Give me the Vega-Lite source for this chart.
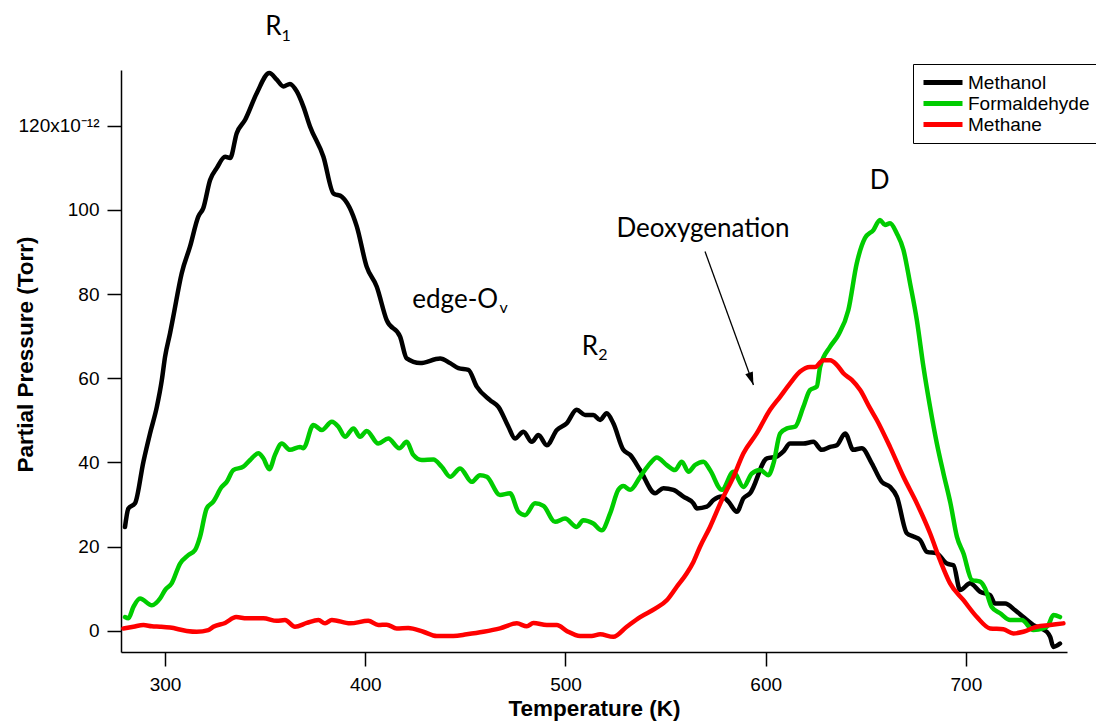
{
  "$schema": "https://vega.github.io/schema/vega-lite/v6.json",
  "width": 946,
  "height": 582,
  "autosize": {"type": "none"},
  "padding": {"left": 121, "top": 70, "right": 29, "bottom": 69},
  "background": "white",
  "config": {
    "view": {"stroke": null},
    "axis": {
      "grid": false,
      "domainColor": "#000000",
      "domainWidth": 1.5,
      "tickColor": "#000000",
      "tickWidth": 1.5,
      "tickSize": 14,
      "labelColor": "#000000",
      "labelFont": "Liberation Sans",
      "labelFontSize": 19,
      "titleColor": "#000000",
      "titleFont": "Liberation Sans",
      "titleFontSize": 22.5,
      "titleFontWeight": "bold"
    }
  },
  "encoding": {
    "x": {
      "field": "T",
      "type": "quantitative",
      "scale": {"domain": [278, 750.5], "nice": false, "zero": false},
      "axis": {
        "title": "Temperature (K)",
        "values": [300, 400, 500, 600, 700],
        "labelPadding": 9,
        "titleY": 63,
        "titleBaseline": "alphabetic"
      }
    },
    "y": {
      "field": "V",
      "type": "quantitative",
      "scale": {"domain": [-5, 133.2], "nice": false, "zero": false},
      "axis": {
        "title": "Partial Pressure (Torr)",
        "values": [0, 20, 40, 60, 80, 100, 120],
        "labelPadding": 8,
        "labelExpr": "datum.value == 120 ? '120x10⁻¹²' : datum.label",
        "titleX": -89,
        "titleY": 284,
        "titleBaseline": "alphabetic"
      }
    }
  },
  "layer": [
    {
      "data": {
        "values": [
          {"series": "Methanol", "T": 280.0, "V": 24.7}, {"series": "Methanol", "T": 281.7, "V": 29.1}, {"series": "Methanol", "T": 285.0, "V": 30.3}, {"series": "Methanol", "T": 289.2, "V": 40.2}, {"series": "Methanol", "T": 292.5, "V": 46.9}, {"series": "Methanol", "T": 295.9, "V": 53.2}, {"series": "Methanol", "T": 298.4, "V": 59.6}, {"series": "Methanol", "T": 300.0, "V": 65.1}, {"series": "Methanol", "T": 302.5, "V": 70.7}, {"series": "Methanol", "T": 304.1, "V": 74.6}, {"series": "Methanol", "T": 308.3, "V": 84.9}, {"series": "Methanol", "T": 312.5, "V": 91.3}, {"series": "Methanol", "T": 316.6, "V": 98.4}, {"series": "Methanol", "T": 319.1, "V": 100.4}, {"series": "Methanol", "T": 322.5, "V": 107.1}, {"series": "Methanol", "T": 325.8, "V": 109.9}, {"series": "Methanol", "T": 330.0, "V": 112.6}, {"series": "Methanol", "T": 332.5, "V": 112.3}, {"series": "Methanol", "T": 335.8, "V": 118.2}, {"series": "Methanol", "T": 340.0, "V": 121.4}, {"series": "Methanol", "T": 345.8, "V": 127.7}, {"series": "Methanol", "T": 352.1, "V": 132.5}, {"series": "Methanol", "T": 355.8, "V": 130.9}, {"series": "Methanol", "T": 359.1, "V": 129.3}, {"series": "Methanol", "T": 362.4, "V": 129.9}, {"series": "Methanol", "T": 365.8, "V": 128.1}, {"series": "Methanol", "T": 369.1, "V": 124.5}, {"series": "Methanol", "T": 372.4, "V": 119.8}, {"series": "Methanol", "T": 379.1, "V": 112.6}, {"series": "Methanol", "T": 384.1, "V": 103.9}, {"series": "Methanol", "T": 388.3, "V": 103.1}, {"series": "Methanol", "T": 395.8, "V": 96.0}, {"series": "Methanol", "T": 400.7, "V": 86.5}, {"series": "Methanol", "T": 405.7, "V": 81.8}, {"series": "Methanol", "T": 410.7, "V": 73.8}, {"series": "Methanol", "T": 417.4, "V": 69.9}, {"series": "Methanol", "T": 420.7, "V": 64.7}, {"series": "Methanol", "T": 427.4, "V": 63.6}, {"series": "Methanol", "T": 437.4, "V": 64.7}, {"series": "Methanol", "T": 442.4, "V": 63.6}, {"series": "Methanol", "T": 446.5, "V": 62.4}, {"series": "Methanol", "T": 451.5, "V": 62.0}, {"series": "Methanol", "T": 455.7, "V": 58.0}, {"series": "Methanol", "T": 462.3, "V": 54.8}, {"series": "Methanol", "T": 466.5, "V": 53.2}, {"series": "Methanol", "T": 471.5, "V": 48.5}, {"series": "Methanol", "T": 474.8, "V": 45.7}, {"series": "Methanol", "T": 479.0, "V": 47.3}, {"series": "Methanol", "T": 483.2, "V": 44.9}, {"series": "Methanol", "T": 486.5, "V": 46.5}, {"series": "Methanol", "T": 490.7, "V": 44.1}, {"series": "Methanol", "T": 495.7, "V": 47.7}, {"series": "Methanol", "T": 500.6, "V": 49.3}, {"series": "Methanol", "T": 505.6, "V": 52.5}, {"series": "Methanol", "T": 509.8, "V": 51.3}, {"series": "Methanol", "T": 513.9, "V": 51.3}, {"series": "Methanol", "T": 517.3, "V": 50.1}, {"series": "Methanol", "T": 520.6, "V": 51.7}, {"series": "Methanol", "T": 523.9, "V": 49.3}, {"series": "Methanol", "T": 528.9, "V": 43.0}, {"series": "Methanol", "T": 532.3, "V": 41.8}, {"series": "Methanol", "T": 537.3, "V": 38.2}, {"series": "Methanol", "T": 544.8, "V": 32.7}, {"series": "Methanol", "T": 548.9, "V": 33.9}, {"series": "Methanol", "T": 553.9, "V": 33.5}, {"series": "Methanol", "T": 558.9, "V": 31.9}, {"series": "Methanol", "T": 563.9, "V": 30.3}, {"series": "Methanol", "T": 565.6, "V": 29.1}, {"series": "Methanol", "T": 570.6, "V": 29.5}, {"series": "Methanol", "T": 573.9, "V": 31.1}, {"series": "Methanol", "T": 578.1, "V": 31.9}, {"series": "Methanol", "T": 581.4, "V": 30.7}, {"series": "Methanol", "T": 585.6, "V": 28.3}, {"series": "Methanol", "T": 588.9, "V": 31.5}, {"series": "Methanol", "T": 592.2, "V": 32.7}, {"series": "Methanol", "T": 600.6, "V": 41.0}, {"series": "Methanol", "T": 605.5, "V": 41.4}, {"series": "Methanol", "T": 608.8, "V": 42.6}, {"series": "Methanol", "T": 612.2, "V": 44.5}, {"series": "Methanol", "T": 618.8, "V": 44.5}, {"series": "Methanol", "T": 623.8, "V": 44.9}, {"series": "Methanol", "T": 628.0, "V": 43.0}, {"series": "Methanol", "T": 632.2, "V": 43.7}, {"series": "Methanol", "T": 635.5, "V": 44.1}, {"series": "Methanol", "T": 639.7, "V": 46.9}, {"series": "Methanol", "T": 643.8, "V": 43.0}, {"series": "Methanol", "T": 648.0, "V": 43.4}, {"series": "Methanol", "T": 653.0, "V": 39.8}, {"series": "Methanol", "T": 658.0, "V": 35.4}, {"series": "Methanol", "T": 662.1, "V": 34.2}, {"series": "Methanol", "T": 665.5, "V": 31.9}, {"series": "Methanol", "T": 670.5, "V": 23.2}, {"series": "Methanol", "T": 673.8, "V": 22.4}, {"series": "Methanol", "T": 677.1, "V": 21.6}, {"series": "Methanol", "T": 680.5, "V": 18.8}, {"series": "Methanol", "T": 685.5, "V": 18.4}, {"series": "Methanol", "T": 690.5, "V": 16.0}, {"series": "Methanol", "T": 693.8, "V": 15.6}, {"series": "Methanol", "T": 697.1, "V": 9.7}, {"series": "Methanol", "T": 702.1, "V": 11.3}, {"series": "Methanol", "T": 707.1, "V": 9.3}, {"series": "Methanol", "T": 712.1, "V": 8.5}, {"series": "Methanol", "T": 714.6, "V": 6.5}, {"series": "Methanol", "T": 719.6, "V": 6.5}, {"series": "Methanol", "T": 724.6, "V": 4.9}, {"series": "Methanol", "T": 728.7, "V": 3.3}, {"series": "Methanol", "T": 733.7, "V": 1.4}, {"series": "Methanol", "T": 740.4, "V": -0.2}, {"series": "Methanol", "T": 742.1, "V": -1.4}, {"series": "Methanol", "T": 743.7, "V": -3.8}, {"series": "Methanol", "T": 747.0, "V": -3.0},

          {"series": "Formaldehyde", "T": 280.0, "V": 3.3}, {"series": "Formaldehyde", "T": 281.7, "V": 3.0}, {"series": "Formaldehyde", "T": 284.2, "V": 5.7}, {"series": "Formaldehyde", "T": 287.5, "V": 7.7}, {"series": "Formaldehyde", "T": 293.4, "V": 6.1}, {"series": "Formaldehyde", "T": 297.5, "V": 7.7}, {"series": "Formaldehyde", "T": 300.0, "V": 9.7}, {"series": "Formaldehyde", "T": 303.3, "V": 11.3}, {"series": "Formaldehyde", "T": 307.5, "V": 16.0}, {"series": "Formaldehyde", "T": 311.6, "V": 18.0}, {"series": "Formaldehyde", "T": 315.0, "V": 19.2}, {"series": "Formaldehyde", "T": 317.5, "V": 22.4}, {"series": "Formaldehyde", "T": 320.8, "V": 29.1}, {"series": "Formaldehyde", "T": 324.1, "V": 30.7}, {"series": "Formaldehyde", "T": 328.3, "V": 34.2}, {"series": "Formaldehyde", "T": 330.8, "V": 35.4}, {"series": "Formaldehyde", "T": 334.1, "V": 38.2}, {"series": "Formaldehyde", "T": 339.1, "V": 39.0}, {"series": "Formaldehyde", "T": 342.5, "V": 40.6}, {"series": "Formaldehyde", "T": 346.6, "V": 42.2}, {"series": "Formaldehyde", "T": 349.1, "V": 41.0}, {"series": "Formaldehyde", "T": 352.1, "V": 38.4}, {"series": "Formaldehyde", "T": 354.9, "V": 41.8}, {"series": "Formaldehyde", "T": 358.3, "V": 44.5}, {"series": "Formaldehyde", "T": 362.4, "V": 43.0}, {"series": "Formaldehyde", "T": 367.4, "V": 43.7}, {"series": "Formaldehyde", "T": 369.1, "V": 43.4}, {"series": "Formaldehyde", "T": 374.1, "V": 48.9}, {"series": "Formaldehyde", "T": 378.3, "V": 47.7}, {"series": "Formaldehyde", "T": 383.3, "V": 49.7}, {"series": "Formaldehyde", "T": 386.6, "V": 48.5}, {"series": "Formaldehyde", "T": 389.9, "V": 46.1}, {"series": "Formaldehyde", "T": 394.1, "V": 48.1}, {"series": "Formaldehyde", "T": 397.4, "V": 46.1}, {"series": "Formaldehyde", "T": 400.7, "V": 47.5}, {"series": "Formaldehyde", "T": 406.5, "V": 44.5}, {"series": "Formaldehyde", "T": 411.5, "V": 45.7}, {"series": "Formaldehyde", "T": 417.0, "V": 43.4}, {"series": "Formaldehyde", "T": 420.7, "V": 44.9}, {"series": "Formaldehyde", "T": 424.0, "V": 41.8}, {"series": "Formaldehyde", "T": 428.2, "V": 40.6}, {"series": "Formaldehyde", "T": 434.0, "V": 40.7}, {"series": "Formaldehyde", "T": 438.2, "V": 39.0}, {"series": "Formaldehyde", "T": 442.4, "V": 36.6}, {"series": "Formaldehyde", "T": 447.4, "V": 38.6}, {"series": "Formaldehyde", "T": 453.2, "V": 35.4}, {"series": "Formaldehyde", "T": 457.3, "V": 37.0}, {"series": "Formaldehyde", "T": 460.7, "V": 36.6}, {"series": "Formaldehyde", "T": 467.3, "V": 32.3}, {"series": "Formaldehyde", "T": 472.3, "V": 32.7}, {"series": "Formaldehyde", "T": 476.5, "V": 28.3}, {"series": "Formaldehyde", "T": 479.8, "V": 27.5}, {"series": "Formaldehyde", "T": 484.8, "V": 30.3}, {"series": "Formaldehyde", "T": 489.0, "V": 29.7}, {"series": "Formaldehyde", "T": 494.8, "V": 25.9}, {"series": "Formaldehyde", "T": 499.8, "V": 26.7}, {"series": "Formaldehyde", "T": 505.6, "V": 24.7}, {"series": "Formaldehyde", "T": 508.9, "V": 26.3}, {"series": "Formaldehyde", "T": 513.9, "V": 25.5}, {"series": "Formaldehyde", "T": 518.1, "V": 23.9}, {"series": "Formaldehyde", "T": 522.3, "V": 27.9}, {"series": "Formaldehyde", "T": 526.4, "V": 33.5}, {"series": "Formaldehyde", "T": 528.9, "V": 34.4}, {"series": "Formaldehyde", "T": 532.3, "V": 33.5}, {"series": "Formaldehyde", "T": 537.3, "V": 36.6}, {"series": "Formaldehyde", "T": 542.3, "V": 39.8}, {"series": "Formaldehyde", "T": 545.6, "V": 41.2}, {"series": "Formaldehyde", "T": 550.6, "V": 39.4}, {"series": "Formaldehyde", "T": 554.7, "V": 38.2}, {"series": "Formaldehyde", "T": 558.1, "V": 40.2}, {"series": "Formaldehyde", "T": 561.4, "V": 37.8}, {"series": "Formaldehyde", "T": 564.7, "V": 39.4}, {"series": "Formaldehyde", "T": 568.9, "V": 40.2}, {"series": "Formaldehyde", "T": 572.2, "V": 38.2}, {"series": "Formaldehyde", "T": 578.1, "V": 33.5}, {"series": "Formaldehyde", "T": 583.9, "V": 37.8}, {"series": "Formaldehyde", "T": 588.9, "V": 34.2}, {"series": "Formaldehyde", "T": 593.1, "V": 37.4}, {"series": "Formaldehyde", "T": 597.2, "V": 38.2}, {"series": "Formaldehyde", "T": 601.4, "V": 37.0}, {"series": "Formaldehyde", "T": 603.9, "V": 39.8}, {"series": "Formaldehyde", "T": 607.2, "V": 46.9}, {"series": "Formaldehyde", "T": 610.6, "V": 48.1}, {"series": "Formaldehyde", "T": 614.7, "V": 48.5}, {"series": "Formaldehyde", "T": 618.8, "V": 53.2}, {"series": "Formaldehyde", "T": 622.1, "V": 57.2}, {"series": "Formaldehyde", "T": 625.5, "V": 58.0}, {"series": "Formaldehyde", "T": 627.2, "V": 62.7}, {"series": "Formaldehyde", "T": 632.2, "V": 67.5}, {"series": "Formaldehyde", "T": 636.3, "V": 70.3}, {"series": "Formaldehyde", "T": 641.3, "V": 76.2}, {"series": "Formaldehyde", "T": 645.5, "V": 87.3}, {"series": "Formaldehyde", "T": 649.6, "V": 93.3}, {"series": "Formaldehyde", "T": 653.8, "V": 95.2}, {"series": "Formaldehyde", "T": 657.1, "V": 97.6}, {"series": "Formaldehyde", "T": 659.6, "V": 96.4}, {"series": "Formaldehyde", "T": 662.1, "V": 96.8}, {"series": "Formaldehyde", "T": 665.5, "V": 94.4}, {"series": "Formaldehyde", "T": 668.8, "V": 90.5}, {"series": "Formaldehyde", "T": 672.1, "V": 82.6}, {"series": "Formaldehyde", "T": 675.5, "V": 73.8}, {"series": "Formaldehyde", "T": 678.8, "V": 62.7}, {"series": "Formaldehyde", "T": 682.1, "V": 53.2}, {"series": "Formaldehyde", "T": 685.5, "V": 44.5}, {"series": "Formaldehyde", "T": 688.8, "V": 37.4}, {"series": "Formaldehyde", "T": 692.3, "V": 30.3}, {"series": "Formaldehyde", "T": 695.5, "V": 22.4}, {"series": "Formaldehyde", "T": 698.8, "V": 18.4}, {"series": "Formaldehyde", "T": 703.0, "V": 12.1}, {"series": "Formaldehyde", "T": 707.1, "V": 11.7}, {"series": "Formaldehyde", "T": 709.6, "V": 10.1}, {"series": "Formaldehyde", "T": 712.9, "V": 5.7}, {"series": "Formaldehyde", "T": 717.1, "V": 4.2}, {"series": "Formaldehyde", "T": 722.1, "V": 2.6}, {"series": "Formaldehyde", "T": 727.9, "V": 2.6}, {"series": "Formaldehyde", "T": 733.7, "V": 0.2}, {"series": "Formaldehyde", "T": 738.7, "V": 0.6}, {"series": "Formaldehyde", "T": 741.2, "V": 1.4}, {"series": "Formaldehyde", "T": 743.7, "V": 3.8}, {"series": "Formaldehyde", "T": 747.0, "V": 3.3},

          {"series": "Methane", "T": 279.2, "V": 0.6}, {"series": "Methane", "T": 284.2, "V": 1.0}, {"series": "Methane", "T": 289.2, "V": 1.4}, {"series": "Methane", "T": 293.4, "V": 1.1}, {"series": "Methane", "T": 297.5, "V": 1.0}, {"series": "Methane", "T": 302.5, "V": 0.8}, {"series": "Methane", "T": 310.8, "V": 0.0}, {"series": "Methane", "T": 315.8, "V": -0.2}, {"series": "Methane", "T": 321.6, "V": 0.2}, {"series": "Methane", "T": 324.1, "V": 1.0}, {"series": "Methane", "T": 330.0, "V": 1.9}, {"series": "Methane", "T": 335.5, "V": 3.3}, {"series": "Methane", "T": 340.8, "V": 3.0}, {"series": "Methane", "T": 349.1, "V": 3.0}, {"series": "Methane", "T": 355.8, "V": 2.4}, {"series": "Methane", "T": 359.9, "V": 2.6}, {"series": "Methane", "T": 364.9, "V": 1.0}, {"series": "Methane", "T": 370.8, "V": 1.9}, {"series": "Methane", "T": 376.6, "V": 2.6}, {"series": "Methane", "T": 379.9, "V": 1.8}, {"series": "Methane", "T": 383.3, "V": 2.6}, {"series": "Methane", "T": 392.4, "V": 1.8}, {"series": "Methane", "T": 401.5, "V": 2.4}, {"series": "Methane", "T": 406.5, "V": 1.4}, {"series": "Methane", "T": 410.7, "V": 1.5}, {"series": "Methane", "T": 415.7, "V": 0.6}, {"series": "Methane", "T": 421.5, "V": 0.7}, {"series": "Methane", "T": 429.0, "V": -0.2}, {"series": "Methane", "T": 435.7, "V": -1.2}, {"series": "Methane", "T": 444.0, "V": -1.2}, {"series": "Methane", "T": 450.7, "V": -0.8}, {"series": "Methane", "T": 459.0, "V": -0.2}, {"series": "Methane", "T": 467.3, "V": 0.6}, {"series": "Methane", "T": 475.7, "V": 1.8}, {"series": "Methane", "T": 480.7, "V": 1.1}, {"series": "Methane", "T": 484.0, "V": 1.9}, {"series": "Methane", "T": 490.7, "V": 1.4}, {"series": "Methane", "T": 495.7, "V": 1.4}, {"series": "Methane", "T": 500.6, "V": 0.0}, {"series": "Methane", "T": 507.3, "V": -1.2}, {"series": "Methane", "T": 513.1, "V": -1.2}, {"series": "Methane", "T": 517.3, "V": -0.8}, {"series": "Methane", "T": 523.9, "V": -1.4}, {"series": "Methane", "T": 530.6, "V": 1.0}, {"series": "Methane", "T": 537.3, "V": 3.3}, {"series": "Methane", "T": 544.8, "V": 5.3}, {"series": "Methane", "T": 550.6, "V": 7.3}, {"series": "Methane", "T": 555.6, "V": 10.5}, {"series": "Methane", "T": 560.6, "V": 13.7}, {"series": "Methane", "T": 563.9, "V": 16.4}, {"series": "Methane", "T": 567.2, "V": 20.0}, {"series": "Methane", "T": 572.2, "V": 24.7}, {"series": "Methane", "T": 578.1, "V": 31.1}, {"series": "Methane", "T": 583.9, "V": 36.6}, {"series": "Methane", "T": 588.9, "V": 42.2}, {"series": "Methane", "T": 595.5, "V": 46.9}, {"series": "Methane", "T": 602.2, "V": 52.5}, {"series": "Methane", "T": 607.2, "V": 55.6}, {"series": "Methane", "T": 612.2, "V": 58.8}, {"series": "Methane", "T": 617.2, "V": 61.6}, {"series": "Methane", "T": 622.1, "V": 62.7}, {"series": "Methane", "T": 624.7, "V": 62.7}, {"series": "Methane", "T": 628.8, "V": 64.3}, {"series": "Methane", "T": 632.2, "V": 64.3}, {"series": "Methane", "T": 635.5, "V": 63.2}, {"series": "Methane", "T": 638.8, "V": 61.2}, {"series": "Methane", "T": 643.0, "V": 59.6}, {"series": "Methane", "T": 647.2, "V": 57.2}, {"series": "Methane", "T": 652.1, "V": 52.9}, {"series": "Methane", "T": 655.5, "V": 50.1}, {"series": "Methane", "T": 662.1, "V": 43.7}, {"series": "Methane", "T": 668.8, "V": 36.6}, {"series": "Methane", "T": 675.5, "V": 30.3}, {"series": "Methane", "T": 682.1, "V": 23.2}, {"series": "Methane", "T": 687.1, "V": 16.8}, {"series": "Methane", "T": 692.1, "V": 11.3}, {"series": "Methane", "T": 698.8, "V": 7.3}, {"series": "Methane", "T": 705.5, "V": 3.3}, {"series": "Methane", "T": 712.1, "V": 0.6}, {"series": "Methane", "T": 718.7, "V": 0.4}, {"series": "Methane", "T": 723.7, "V": -0.6}, {"series": "Methane", "T": 728.7, "V": -0.2}, {"series": "Methane", "T": 735.4, "V": 1.0}, {"series": "Methane", "T": 742.1, "V": 1.4}, {"series": "Methane", "T": 748.7, "V": 1.8}
        ]
      },
      "mark": {"type": "line", "strokeWidth": 4.5, "strokeJoin": "round", "strokeCap": "round", "interpolate": "monotone", "clip": false},
      "encoding": {
        "color": {
          "field": "series",
          "type": "nominal",
          "scale": {"domain": ["Methanol", "Formaldehyde", "Methane"], "range": ["#000000", "#00CC00", "#FF0000"]},
          "legend": {
            "orient": "none",
            "legendX": 792,
            "legendY": -6,
            "title": null,
            "fillColor": "white",
            "strokeColor": "#000000",
            "padding": 8,
            "symbolType": "stroke",
            "symbolStrokeWidth": 5,
            "symbolSize": 1521,
            "clipHeight": 21,
            "rowPadding": 0,
            "labelFont": "Liberation Sans",
            "labelFontSize": 19,
            "labelColor": "#000000",
            "labelOffset": 3
          }
        }
      }
    },
    {
      "data": {
        "values": [
          {"txt": "R", "T": 350.0, "V": 141.6, "fs": 26},
          {"txt": "1", "T": 358.2, "V": 140.0, "fs": 16},
          {"txt": "edge-O", "T": 423.5, "V": 76.8, "fs": 26},
          {"txt": "v", "T": 467.0, "V": 75.4, "fs": 16},
          {"txt": "R", "T": 508.1, "V": 65.5, "fs": 26},
          {"txt": "2", "T": 516.4, "V": 64.3, "fs": 16}
        ]
      },
      "mark": {"type": "text", "align": "left", "baseline": "alphabetic", "font": "Lato", "color": "#000000", "clip": false},
      "encoding": {
        "text": {"field": "txt"},
        "size": {"field": "fs", "type": "quantitative", "scale": null}
      }
    },
    {
      "data": {
        "values": [
          {"txt": "Deoxygenation", "T": 568.7, "V": 93.5, "fs": 26},
          {"txt": "D", "T": 656.9, "V": 104.9, "fs": 26}
        ]
      },
      "mark": {"type": "text", "align": "center", "baseline": "alphabetic", "font": "Lato", "color": "#000000", "clip": false},
      "encoding": {
        "text": {"field": "txt"},
        "size": {"field": "fs", "type": "quantitative", "scale": null}
      }
    },
    {
      "data": {"values": [{"T": 569.7, "V": 90.1, "T2": 593.9, "V2": 58.4}]},
      "mark": {"type": "rule", "color": "#000000", "strokeWidth": 1.3},
      "encoding": {
        "x2": {"field": "T2"},
        "y2": {"field": "V2"}
      }
    },
    {
      "data": {"values": [{"T": 593.9, "V": 58.4}]},
      "mark": {"type": "point", "shape": "M0,0L-0.8,2.6L0.8,2.6Z", "angle": 160.1, "filled": true, "color": "#000000", "opacity": 1, "size": 100}
    }
  ]
}
